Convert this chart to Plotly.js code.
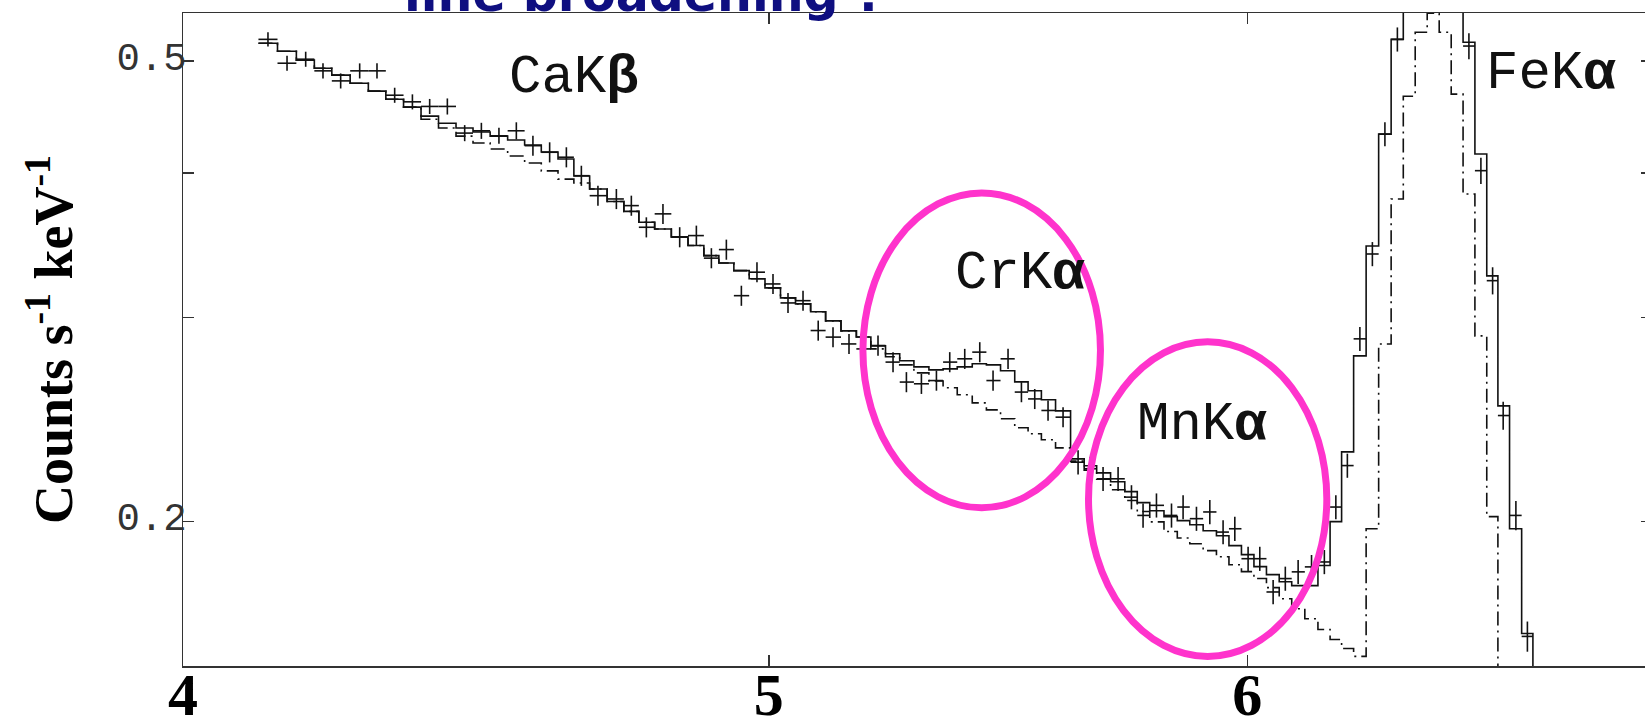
<!DOCTYPE html>
<html>
<head>
<meta charset="utf-8">
<script src="https://cdn.plot.ly/plotly-3.0.1.min.js"></script>
<style>
html,body{margin:0;padding:0;overflow:hidden;background:#fff;}
#chart{width:1660px;height:726px;}
</style>
</head>
<body>
<div id="chart"></div>
<script>
// ---- data (keV, counts s^-1 keV^-1) ----
const energyKeV = [
  4.1316, 4.1617, 4.1914, 4.2191, 4.2476, 4.2785, 4.3068, 4.3359, 4.3653, 4.3941,
  4.4238, 4.4531, 4.4815, 4.5116, 4.5416, 4.5704, 4.5996, 4.6290, 4.6555, 4.6850,
  4.7180, 4.7450, 4.7722, 4.8025, 4.8332, 4.8640, 4.8919, 4.9199, 4.9481, 4.9776,
  5.0081, 5.0368, 5.0657, 5.0951, 5.1239, 5.1552, 5.1842, 5.2125, 5.2424, 5.2692,
  5.2994, 5.3298, 5.3569, 5.3876, 5.4185, 5.4460, 5.4772, 5.5052, 5.5332, 5.5613,
  5.5932, 5.6253, 5.6515, 5.6791, 5.7117, 5.7409, 5.7663, 5.7958, 5.8291, 5.8549,
  5.8848, 5.9148, 5.9448, 5.9714, 6.0017, 6.0285, 6.0592, 6.0874, 6.1172, 6.1485,
  6.1786, 6.2057, 6.2330, 6.2628, 6.2927, 6.3228, 6.3529, 6.3816, 6.4108, 6.4402,
  6.4697, 6.4994, 6.5284, 6.5583, 6.5876, 6.6142, 6.6463, 6.6755, 6.7036
];

const rate = [
  0.5219, 0.4977, 0.5017, 0.4902, 0.4805, 0.4902, 0.4902, 0.4670, 0.4609, 0.4567,
  0.4567, 0.4331, 0.4351, 0.4308, 0.4351, 0.4224, 0.4169, 0.4128, 0.3979, 0.3824,
  0.3799, 0.3749, 0.3591, 0.3688, 0.3521, 0.3532, 0.3377, 0.3435, 0.3134, 0.3284,
  0.3208, 0.3089, 0.3103, 0.2924, 0.2886, 0.2847, 0.2819, 0.2838, 0.2746, 0.2639,
  0.2630, 0.2647, 0.2746, 0.2764, 0.2801, 0.2647, 0.2764, 0.2587, 0.2552, 0.2494,
  0.2461, 0.2250, 0.2221, 0.2177, 0.2177, 0.2099, 0.2024, 0.2065, 0.2024, 0.2058,
  0.2011, 0.2038, 0.1958, 0.1971, 0.1857, 0.1857, 0.1738, 0.1785, 0.1809, 0.1827,
  0.1845, 0.2058, 0.2235, 0.2876, 0.3405, 0.4322, 0.5219, 0.60, 0.64, 0.66,
  0.64, 0.60, 0.5150, 0.4019, 0.3229, 0.2469, 0.2024, 0.1591
];

const rateErrPct = [
  1.4, 1.5, 1.5, 1.5, 1.5, 1.5, 1.5, 1.5, 1.5, 1.5,
  1.6, 1.6, 1.6, 1.6, 1.7, 2.0, 2.0, 2.0, 2.0, 2.0,
  2.0, 2.0, 2.0, 2.0, 2.0, 2.0, 2.0, 2.0, 2.0, 2.0,
  2.0, 2.0, 2.0, 2.0, 2.0, 2.0, 2.0, 2.0, 2.0, 2.0,
  2.0, 2.0, 2.0, 2.0, 2.0, 2.0, 2.0, 2.0, 2.0, 2.0,
  2.0, 2.4, 2.4, 2.4, 2.4, 2.4, 2.4, 2.4, 2.4, 2.4,
  2.4, 2.4, 2.4, 2.4, 2.4, 2.4, 2.4, 2.4, 2.4, 2.4,
  2.4, 2.4, 2.4, 2.4, 2.4, 2.4, 2.4, 2.4, 2.4, 2.4,
  2.4, 2.4, 2.6, 2.6, 2.7, 2.8, 2.9, 3.0
];

// model with broadened lines (solid histogram)
const modelBroad = [
  0.5179, 0.5097, 0.5007, 0.4928, 0.4860, 0.4783, 0.4708, 0.4633, 0.4561, 0.4480,
  0.4417, 0.4375, 0.4340, 0.4305, 0.4272, 0.4229, 0.4171, 0.4113, 0.3976, 0.3875,
  0.3780, 0.3706, 0.3627, 0.3579, 0.3523, 0.3463, 0.3394, 0.3345, 0.3294, 0.3241,
  0.3183, 0.3120, 0.3083, 0.3035, 0.2981, 0.2922, 0.2887, 0.2836, 0.2792, 0.2753,
  0.2720, 0.2704, 0.2709, 0.2720, 0.2737, 0.2731, 0.2699, 0.2640, 0.2594, 0.2548,
  0.2492, 0.2265, 0.2234, 0.2203, 0.2164, 0.2122, 0.2076, 0.2043, 0.2019, 0.2003,
  0.1987, 0.1963, 0.1944, 0.1906, 0.1872, 0.1828, 0.1799, 0.1774, 0.1760, 0.1760,
  0.1832, 0.1999, 0.2297, 0.2780, 0.3460, 0.4322, 0.5219, 0.60, 0.65, 0.67,
  0.65, 0.60, 0.5189, 0.4154, 0.3260, 0.2517, 0.1971, 0.1600, 0.12
];

// model with narrow lines (dash-dot histogram)
const modelNarrow = [
  0.5179, 0.5097, 0.5007, 0.4928, 0.4860, 0.4783, 0.4708, 0.4633, 0.4561, 0.4452,
  0.4375, 0.4305, 0.4246, 0.4196, 0.4138, 0.4081, 0.4017, 0.3952, 0.3922, 0.3875,
  0.3780, 0.3706, 0.3627, 0.3579, 0.3523, 0.3463, 0.3394, 0.3345, 0.3294, 0.3241,
  0.3183, 0.3120, 0.3083, 0.3035, 0.2981, 0.2922, 0.2887, 0.2819, 0.2775, 0.2731,
  0.2688, 0.2645, 0.2609, 0.2573, 0.2532, 0.2497, 0.2453, 0.2410, 0.2381, 0.2353,
  0.2315, 0.2255, 0.2215, 0.2175, 0.2130, 0.2085, 0.2040, 0.1998, 0.1960, 0.1935,
  0.1913, 0.1887, 0.1864, 0.1835, 0.1810, 0.1785, 0.1753, 0.1715, 0.1681, 0.1648,
  0.1613, 0.1581, 0.1553, 0.1529, 0.1971, 0.2847, 0.3799, 0.4661, 0.5293, 0.5497,
  0.5293, 0.4680, 0.3837, 0.2893, 0.2019, 0.12
];

const lineLabels = ['CaK<b>β</b>', 'CrK<b>α</b>', 'MnK<b>α</b>', 'FeK<b>α</b>'];
const lineLabelE = [4.643, 5.503, 5.8975, 6.737];
const lineLabelRate = [0.4841, 0.3273, 0.2424, 0.4874];

const xTickVals = [4, 5, 6];
const xTickText = ['4', '5', '6'];
const yTickVals = [0.2, 0.5];
const yTickText = ['0.2', '0.5'];
const yMinorTickVals = [0.3, 0.4];

// highlighted regions (energy range, rate range)
const highlightE = [[5.1826, 5.6735], [5.6477, 6.1844]];
const highlightRate = [[0.2055, 0.3845], [0.1529, 0.2859]];

// ---- helpers ----
function binEdges(c) {
  const n = c.length, e = [c[0] * Math.sqrt(c[0] / c[1])];
  for (let i = 1; i < n; i++) e.push(Math.sqrt(c[i - 1] * c[i]));
  e.push(c[n - 1] * Math.sqrt(c[n - 1] / c[n - 2]));
  return e;
}
function stepTrace(vals, style) {
  const c = energyKeV.slice(0, vals.length);
  return {
    type: 'scatter', mode: 'lines',
    x: binEdges(c), y: vals.concat([vals[vals.length - 1]]),
    line: Object.assign({shape: 'hv', color: '#111', width: 1.6}, style),
    hoverinfo: 'skip', showlegend: false
  };
}

const dataE = energyKeV.slice(0, rate.length);
const edges = binEdges(energyKeV).slice(0, rate.length + 1);
const xPlus = dataE.map((c, i) => edges[i + 1] - c);
const xMinus = dataE.map((c, i) => c - edges[i]);
const yErr = rate.map((r, i) => r * rateErrPct[i] / 100);

const traces = [
  stepTrace(modelNarrow, {dash: '14px,5px,2px,5px'}),
  stepTrace(modelBroad, {}),
  {
    type: 'scatter', mode: 'markers', x: dataE, y: rate,
    marker: {size: 1, color: 'rgba(0,0,0,0)'},
    error_x: {type: 'data', symmetric: false, array: xPlus, arrayminus: xMinus,
              width: 0, thickness: 1.6, color: '#111'},
    error_y: {type: 'data', array: yErr, width: 0, thickness: 1.6, color: '#111'},
    hoverinfo: 'skip', showlegend: false
  }
];

const annotations = lineLabels.map((t, i) => ({
  text: t, xref: 'x', yref: 'y',
  x: Math.log10(lineLabelE[i]), y: Math.log10(lineLabelRate[i]),
  showarrow: false, xanchor: 'center', yanchor: 'middle',
  font: {family: 'Liberation Mono, Courier New, monospace', size: 54, color: '#111'}
}));

const shapes = highlightE.map((ex, i) => ({
  type: 'circle', xref: 'x', yref: 'y',
  x0: ex[0], x1: ex[1], y0: highlightRate[i][0], y1: highlightRate[i][1],
  line: {color: '#ff33cc', width: 7}
}));

const axisLine = {
  ticks: 'inside', ticklen: 11, tickwidth: 1.5, tickcolor: '#333',
  showline: true, linecolor: '#333', linewidth: 1.5, mirror: 'ticks',
  showgrid: false, zeroline: false
};

const layout = {
  width: 1660, height: 726,
  margin: {l: 183, r: 8, t: 13, b: 60},
  paper_bgcolor: '#fff', plot_bgcolor: '#fff',
  showlegend: false, hovermode: false,
  title: {
    text: 'line broadening ?',
    font: {family: 'DejaVu Sans, Verdana, sans-serif', size: 49, color: '#0f0f80', weight: 'bold'},
    xref: 'container', x: 404 / 1660, xanchor: 'left',
    yref: 'container', y: 1 - 11 / 726, yanchor: 'bottom'
  },
  xaxis: Object.assign({
    type: 'log', range: [Math.log10(4), Math.log10(7)],
    tickmode: 'array', tickvals: xTickVals, ticktext: xTickText,
    ticklabelstandoff: -25,
    tickfont: {family: 'Liberation Serif, Times New Roman, serif', size: 60, color: '#000', weight: 'bold'}
  }, axisLine),
  yaxis: Object.assign({
    type: 'log', range: [Math.log10(0.15), Math.log10(0.55)],
    tickmode: 'array', tickvals: yTickVals, ticktext: yTickText,
    minor: {tickmode: 'array', tickvals: yMinorTickVals, ticks: 'inside', ticklen: 11,
            tickwidth: 1.5, tickcolor: '#333', showgrid: false},
    ticklabelstandoff: -13, ticklabelshift: -5,
    tickfont: {family: 'Liberation Mono, Courier New, monospace', size: 39, color: '#333'},
    title: {
      text: 'Counts s<sup>-1</sup> keV<sup>-1</sup>',
      font: {family: 'Liberation Serif, Times New Roman, serif', size: 54, color: '#000', weight: 'bold'},
      standoff: 26
    }
  }, axisLine),
  annotations: annotations,
  shapes: shapes
};

Plotly.newPlot('chart', traces, layout, {displayModeBar: false, staticPlot: true});
</script>
</body>
</html>
